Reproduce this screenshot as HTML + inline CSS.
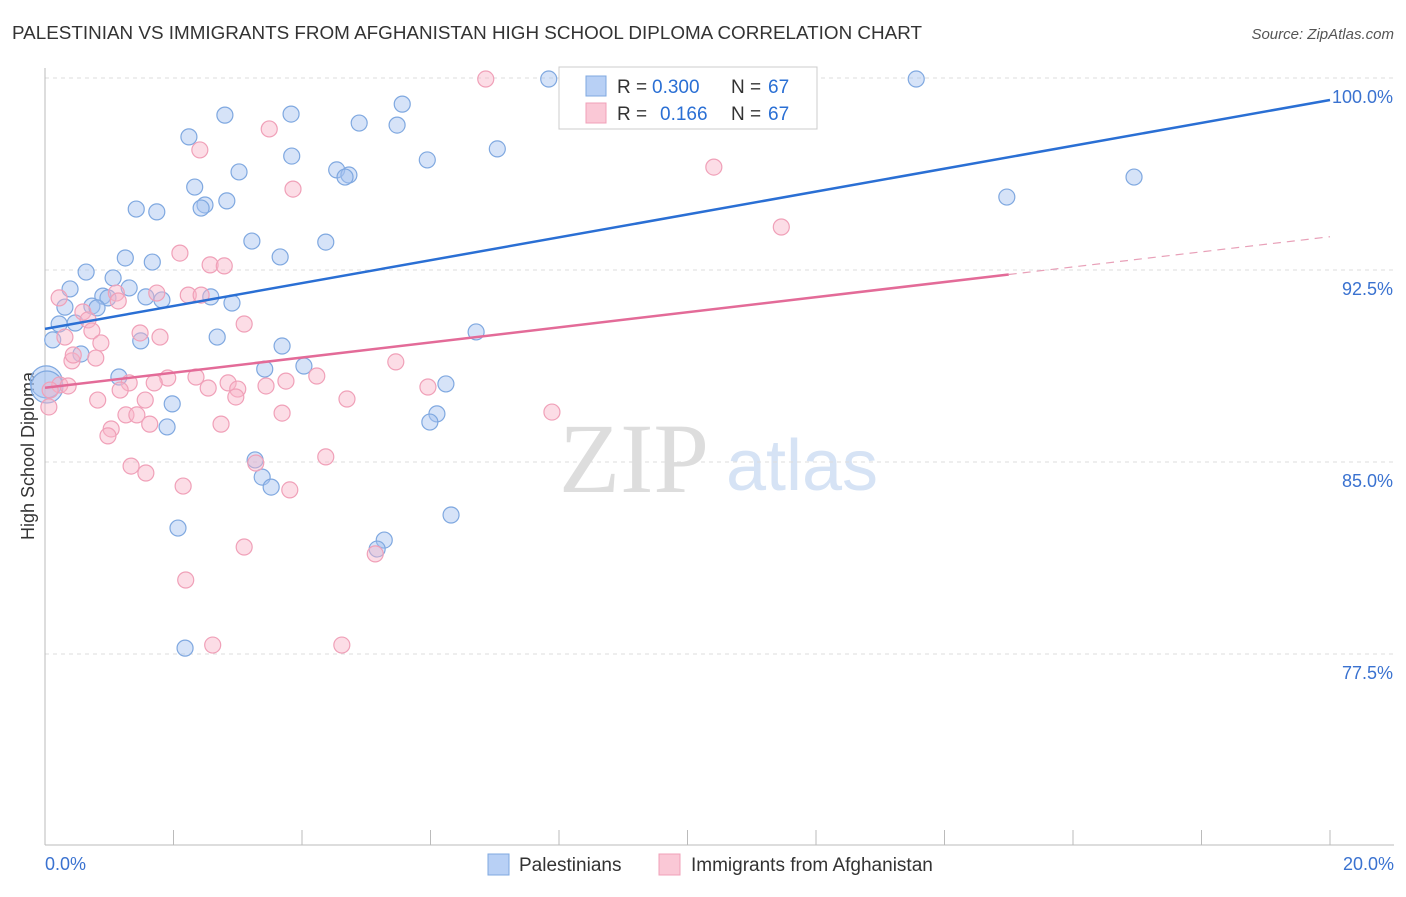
<!DOCTYPE html>
<html><head><meta charset="utf-8"><style>
body{margin:0;background:#fff;font-family:"Liberation Sans",sans-serif}
svg text{font-family:"Liberation Sans",sans-serif}
</style></head><body>
<svg id="chart" width="1406" height="892" xmlns="http://www.w3.org/2000/svg">
<text x="12" y="39" font-size="18" fill="#333" textLength="910" lengthAdjust="spacingAndGlyphs">PALESTINIAN VS IMMIGRANTS FROM AFGHANISTAN HIGH SCHOOL DIPLOMA CORRELATION CHART</text>
<text x="1394" y="39" font-size="15" fill="#555" text-anchor="end" font-style="italic">Source: ZipAtlas.com</text>
<text transform="translate(34,456) rotate(-90)" font-size="18" fill="#333" text-anchor="middle">High School Diploma</text>
<text x="634" y="492" font-size="100" fill="#ddd" text-anchor="middle" style="font-family:'Liberation Serif',serif">ZIP</text>
<text x="802" y="490" font-size="72" fill="#d6e3f5" text-anchor="middle">atlas</text>
<g id="grid"></g><g id="marks"></g><g id="lines"></g>
<g>
<rect x="559" y="67" width="258" height="62" fill="#fff" stroke="#ccc"/>
<rect x="586" y="76" width="20" height="20" fill="#b8d0f5" stroke="#7fa8e0"/>
<rect x="586" y="103" width="20" height="20" fill="#fac8d6" stroke="#f0a0b8"/>
<text x="617" y="93" font-size="19" fill="#333">R =</text>
<text x="652" y="93" font-size="19" fill="#2a6fd4">0.300</text>
<text x="731" y="93" font-size="19" fill="#333">N =</text>
<text x="768" y="93" font-size="19" fill="#2a6fd4">67</text>
<text x="617" y="120" font-size="19" fill="#333">R =</text>
<text x="660" y="120" font-size="19" fill="#2a6fd4">0.166</text>
<text x="731" y="120" font-size="19" fill="#333">N =</text>
<text x="768" y="120" font-size="19" fill="#2a6fd4">67</text>
</g>
<g>
<rect x="488" y="854" width="21" height="21" fill="#b8d0f5" stroke="#7fa8e0"/>
<text x="519" y="871" font-size="19" fill="#333">Palestinians</text>
<rect x="659" y="854" width="21" height="21" fill="#fac8d6" stroke="#f0a0b8"/>
<text x="691" y="871" font-size="19" fill="#333">Immigrants from Afghanistan</text>
</g>
</svg>
<script>
const yTicks=[100,92.5,85,77.5];
const yTickLabels=["100.0%","92.5%","85.0%","77.5%"];
const xLabels=["0.0%","20.0%"];
const blueX=[7.84,11.80,13.56,2.80,3.83,5.56,4.89,5.48,2.24,3.84,7.04,5.95,4.54,4.73,4.67,3.02,2.33,2.49,2.43,2.83,1.42,1.74,14.97,16.95,3.22,4.37,1.25,1.67,3.66,0.64,1.06,0.39,1.31,0.90,0.98,1.57,1.82,2.58,2.91,0.31,0.73,0.81,0.22,0.47,2.68,1.49,6.71,0.12,3.69,0.56,3.42,4.03,0.02,0.03,1.15,6.24,1.98,6.10,5.99,1.90,3.27,3.38,3.52,6.32,2.07,5.28,5.17,2.18];
const blueY=[99.96,99.96,99.96,98.55,98.59,98.98,98.24,98.16,97.70,96.95,97.23,96.80,96.41,96.21,96.13,96.33,95.74,95.04,94.92,95.20,94.88,94.77,95.35,96.13,93.63,93.59,92.97,92.81,93.01,92.42,92.19,91.76,91.80,91.48,91.41,91.45,91.33,91.45,91.21,91.05,91.09,91.02,90.39,90.43,89.88,89.73,90.08,89.77,89.53,89.22,88.63,88.75,88.13,87.93,88.32,88.05,87.27,86.88,86.56,86.37,85.08,84.41,84.02,82.93,82.42,81.95,81.60,77.73];
const pinkX=[6.86,3.49,2.41,10.41,3.86,11.46,2.10,2.57,2.79,2.23,2.43,1.74,0.22,1.11,1.14,0.59,3.10,0.67,0.73,1.48,1.79,0.31,0.87,0.42,0.79,5.46,0.44,1.91,2.35,2.85,3.00,3.44,3.75,4.23,5.96,1.70,1.31,1.17,0.23,0.08,0.36,0.06,0.82,1.56,2.97,4.70,2.54,7.89,3.69,1.26,1.43,1.63,1.03,0.98,2.74,3.28,1.34,1.57,4.37,2.15,3.81,3.10,5.14,2.19,2.61,4.62];
const pinkY=[99.96,98.01,97.19,96.52,95.66,94.18,93.16,92.70,92.66,91.52,91.52,91.60,91.41,91.60,91.29,90.86,90.39,90.55,90.12,90.04,89.88,89.88,89.65,88.95,89.06,88.91,89.18,88.28,88.32,88.09,87.85,87.97,88.16,88.36,87.93,88.09,88.09,87.81,88.01,87.81,87.97,87.15,87.42,87.42,87.54,87.46,87.89,86.95,86.91,86.84,86.84,86.48,86.29,86.02,86.48,84.96,84.84,84.57,85.20,84.06,83.91,81.68,81.41,80.39,77.85,77.85];
const blueTrend=[90.2,99.14];
const pinkTrend=[87.9,93.8];
const X0=45,X1=1330,Y100=78,PXU=25.6;
const sx=v=>X0+(X1-X0)*v/20;
const sy=v=>Y100+(100-v)*PXU;
const NS="http://www.w3.org/2000/svg";
function mk(tag,attrs,parent){const e=document.createElementNS(NS,tag);for(const k in attrs)e.setAttribute(k,attrs[k]);parent.appendChild(e);return e;}
const grid=document.getElementById('grid');
yTicks.forEach((t,i)=>{
 const l=mk('line',{x1:X0,x2:1394,y1:sy(t),y2:sy(t),stroke:'#ddd','stroke-dasharray':'4,4'},grid);
 
 
 const tx=mk('text',{x:1393,y:sy(t)+25,'font-size':18,fill:'#3a72d0','text-anchor':'end'},grid);
 tx.textContent=yTickLabels[i];
 
 
});
const ax=mk('line',{x1:X0,x2:1394,y1:845,y2:845,stroke:'#bbb'},grid);


const ay=mk('line',{x1:X0,x2:X0,y1:68,y2:845,stroke:'#bbb'},grid);


for(let i=0;i<=10;i++){
 const t=mk('line',{x1:sx(i*2),x2:sx(i*2),y1:830,y2:845,stroke:'#bbb'},grid);
 
 
}
[[0,'start',45],[20,'end',1394]].forEach((d,i)=>{
 const tx=mk('text',{x:d[2],y:870,'font-size':18,fill:'#3a72d0','text-anchor':d[1]},grid);
 tx.textContent=xLabels[i];
 
 
});
const marks=document.getElementById('marks');
function pts(xs,ys,fill,stroke,name){
 xs.forEach((x,i)=>{
  const r=(x<0.05)?16:8;
  const c=mk('circle',{cx:sx(x),cy:sy(ys[i]),r:r,fill:fill,stroke:stroke,'stroke-width':1.2},marks);
  
  
 });
}
pts(blueX,blueY,'rgba(164,194,240,0.45)','#7fa8e0','palestinian-point');
pts(pinkX,pinkY,'rgba(248,180,200,0.45)','#f0a0b8','afghanistan-point');
const lines=document.getElementById('lines');
const bl=mk('line',{x1:sx(0),y1:sy(blueTrend[0]),x2:sx(20),y2:sy(blueTrend[1]),stroke:'#2a6fd4','stroke-width':2.5},lines);


const xs=15;const ym=pinkTrend[0]+(pinkTrend[1]-pinkTrend[0])*xs/20;
const pl=mk('line',{x1:sx(0),y1:sy(pinkTrend[0]),x2:sx(xs),y2:sy(ym),stroke:'#e36b98','stroke-width':2.5},lines);


const pd=mk('line',{x1:sx(xs),y1:sy(ym),x2:sx(20),y2:sy(pinkTrend[1]),stroke:'#e8a0b8','stroke-width':1.2,'stroke-dasharray':'8,6'},lines);


</script>
</body></html>
